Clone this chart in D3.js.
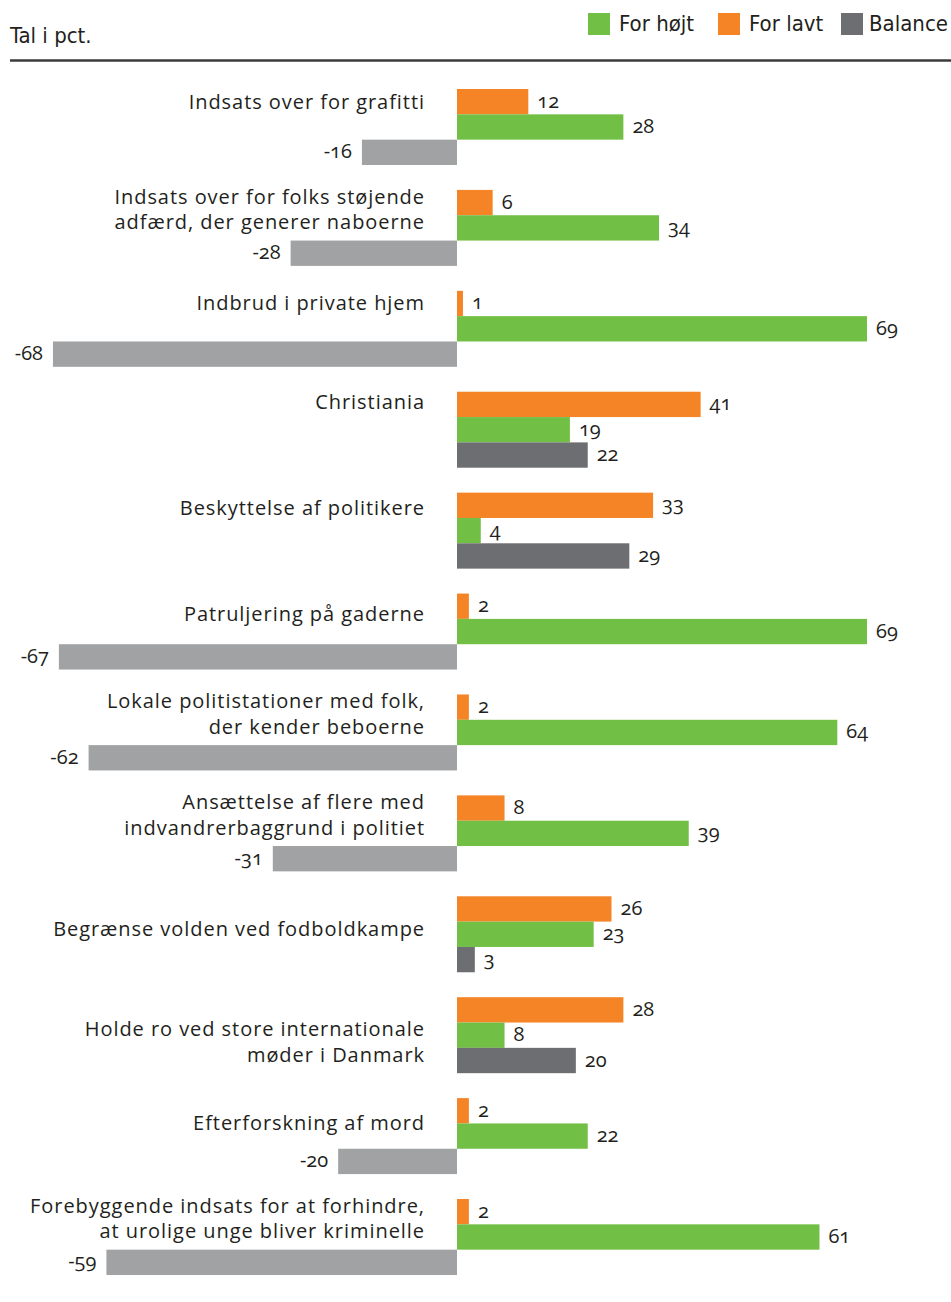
<!DOCTYPE html>
<html>
<head>
<meta charset="utf-8">
<script src="https://cdn.jsdelivr.net/npm/d3@7"></script>
<style>
  html, body { margin: 0; padding: 0; background: #fff; }
  svg { display: block; }
  .cat { font-family: "Open Sans", sans-serif; font-size: 20px; letter-spacing: 0.95px; fill: #231f20; }
  .val { font-family: "Open Sans", sans-serif; font-size: 20px; fill: #231f20; font-variant-numeric: oldstyle-nums; }
  .hdr { font-family: "DejaVu Sans Condensed", "Liberation Sans Narrow", sans-serif; font-size: 22px; fill: #231f20; }
</style>
</head>
<body>
<svg id="chart" width="951" height="1302"></svg>
<script>
// Survey answers, percent
const categories = [
  ["Indsats over for grafitti"],
  ["Indsats over for folks støjende", "adfærd, der generer naboerne"],
  ["Indbrud i private hjem"],
  ["Christiania"],
  ["Beskyttelse af politikere"],
  ["Patruljering på gaderne"],
  ["Lokale politistationer med folk,", "der kender beboerne"],
  ["Ansættelse af flere med", "indvandrerbaggrund i politiet"],
  ["Begrænse volden ved fodboldkampe"],
  ["Holde ro ved store internationale", "møder i Danmark"],
  ["Efterforskning af mord"],
  ["Forebyggende indsats for at forhindre,", "at urolige unge bliver kriminelle"]
];
const forLavt  = [12, 6, 1, 41, 33, 2, 2, 8, 26, 28, 2, 2];
const forHojt  = [28, 34, 69, 19, 4, 69, 64, 39, 23, 8, 22, 61];
const balance  = [-16, -28, -68, 22, 29, -67, -62, -31, 3, 20, -20, -59];

const seriesKeys = ["lavt", "hojt", "balance"];
const legendItems = [
  { key: "hojt", label: "For højt" },
  { key: "lavt", label: "For lavt" },
  { key: "balance", label: "Balance" }
];

// Vertical nudge of each category label, in bar rows
const labelNudge = [0, 0, 0, -0.1, 0.1, 0.3, 0, 0, 0.8, 1, 0.5, 0];

const colors = { lavt: "#f58426", hojt: "#71bf44", balance: "#6d6e71", balanceNeg: "#a1a2a4" };

const rows = categories.map((c, i) => ({
  idx: i,
  label: c,
  values: { lavt: forLavt[i], hojt: forHojt[i], balance: balance[i] }
}));

const svg = d3.select("#chart");

const x = d3.scaleLinear().domain([0, 69]).range([457, 867]);

const y = d3.scaleBand()
  .domain(d3.range(rows.length))
  .range([89, 1275])
  .paddingInner(0.247)
  .paddingOuter(0);

const ySub = d3.scaleBand().domain(seriesKeys).range([0, y.bandwidth()]);

// Header
svg.append("text").attr("class", "hdr").attr("x", 10).attr("y", 43).text("Tal i pct.");
svg.append("line")
  .attr("x1", 10).attr("x2", 951).attr("y1", 60.5).attr("y2", 60.5)
  .attr("stroke", "#3b3b3b").attr("stroke-width", 2.5);

// Legend
const legendX = [588, 718, 841];
const lg = svg.append("g");
legendItems.forEach((it, i) => {
  const g = lg.append("g").attr("transform", `translate(${legendX[i]},13)`);
  g.append("rect").attr("width", 22).attr("height", 22).attr("fill", colors[it.key]);
  g.append("text").attr("class", "hdr").attr("x", i === 2 ? 28 : 31).attr("y", 18).text(it.label);
});

// Groups
const groups = svg.append("g").selectAll("g.grp")
  .data(rows).join("g")
  .attr("class", "grp")
  .attr("transform", d => `translate(0,${y(d.idx)})`);

const bars = groups.selectAll("g.bar")
  .data(d => seriesKeys.map(k => ({ key: k, v: d.values[k] })))
  .join("g").attr("class", "bar");

bars.append("rect")
  .attr("x", d => x(Math.min(0, d.v)))
  .attr("y", d => ySub(d.key))
  .attr("width", d => Math.abs(x(d.v) - x(0)))
  .attr("height", ySub.bandwidth())
  .attr("fill", d => d.key === "balance" ? (d.v < 0 ? colors.balanceNeg : colors.balance) : colors[d.key]);

bars.append("text")
  .attr("class", "val")
  .attr("x", d => d.v < 0 ? x(d.v) - 10 : x(d.v) + 9)
  .attr("y", d => ySub(d.key) + ySub.bandwidth() / 2 + 6)
  .attr("text-anchor", d => d.v < 0 ? "end" : "start")
  .text(d => d.v);

// Category labels
groups.append("text")
  .attr("class", "cat")
  .attr("text-anchor", "end")
  .each(function (d) {
    const t = d3.select(this);
    const rowH = ySub.bandwidth();
    const n = d.label.length;
    const center = rowH / 2 + labelNudge[d.idx] * rowH + (n === 2 ? 7 : 0);
    d.label.forEach((line, j) => {
      t.append("tspan")
        .attr("x", 425)
        .attr("y", center + (j - (n - 1) / 2) * 25.5 + 7)
        .text(line);
    });
  });
</script>
</body>
</html>
